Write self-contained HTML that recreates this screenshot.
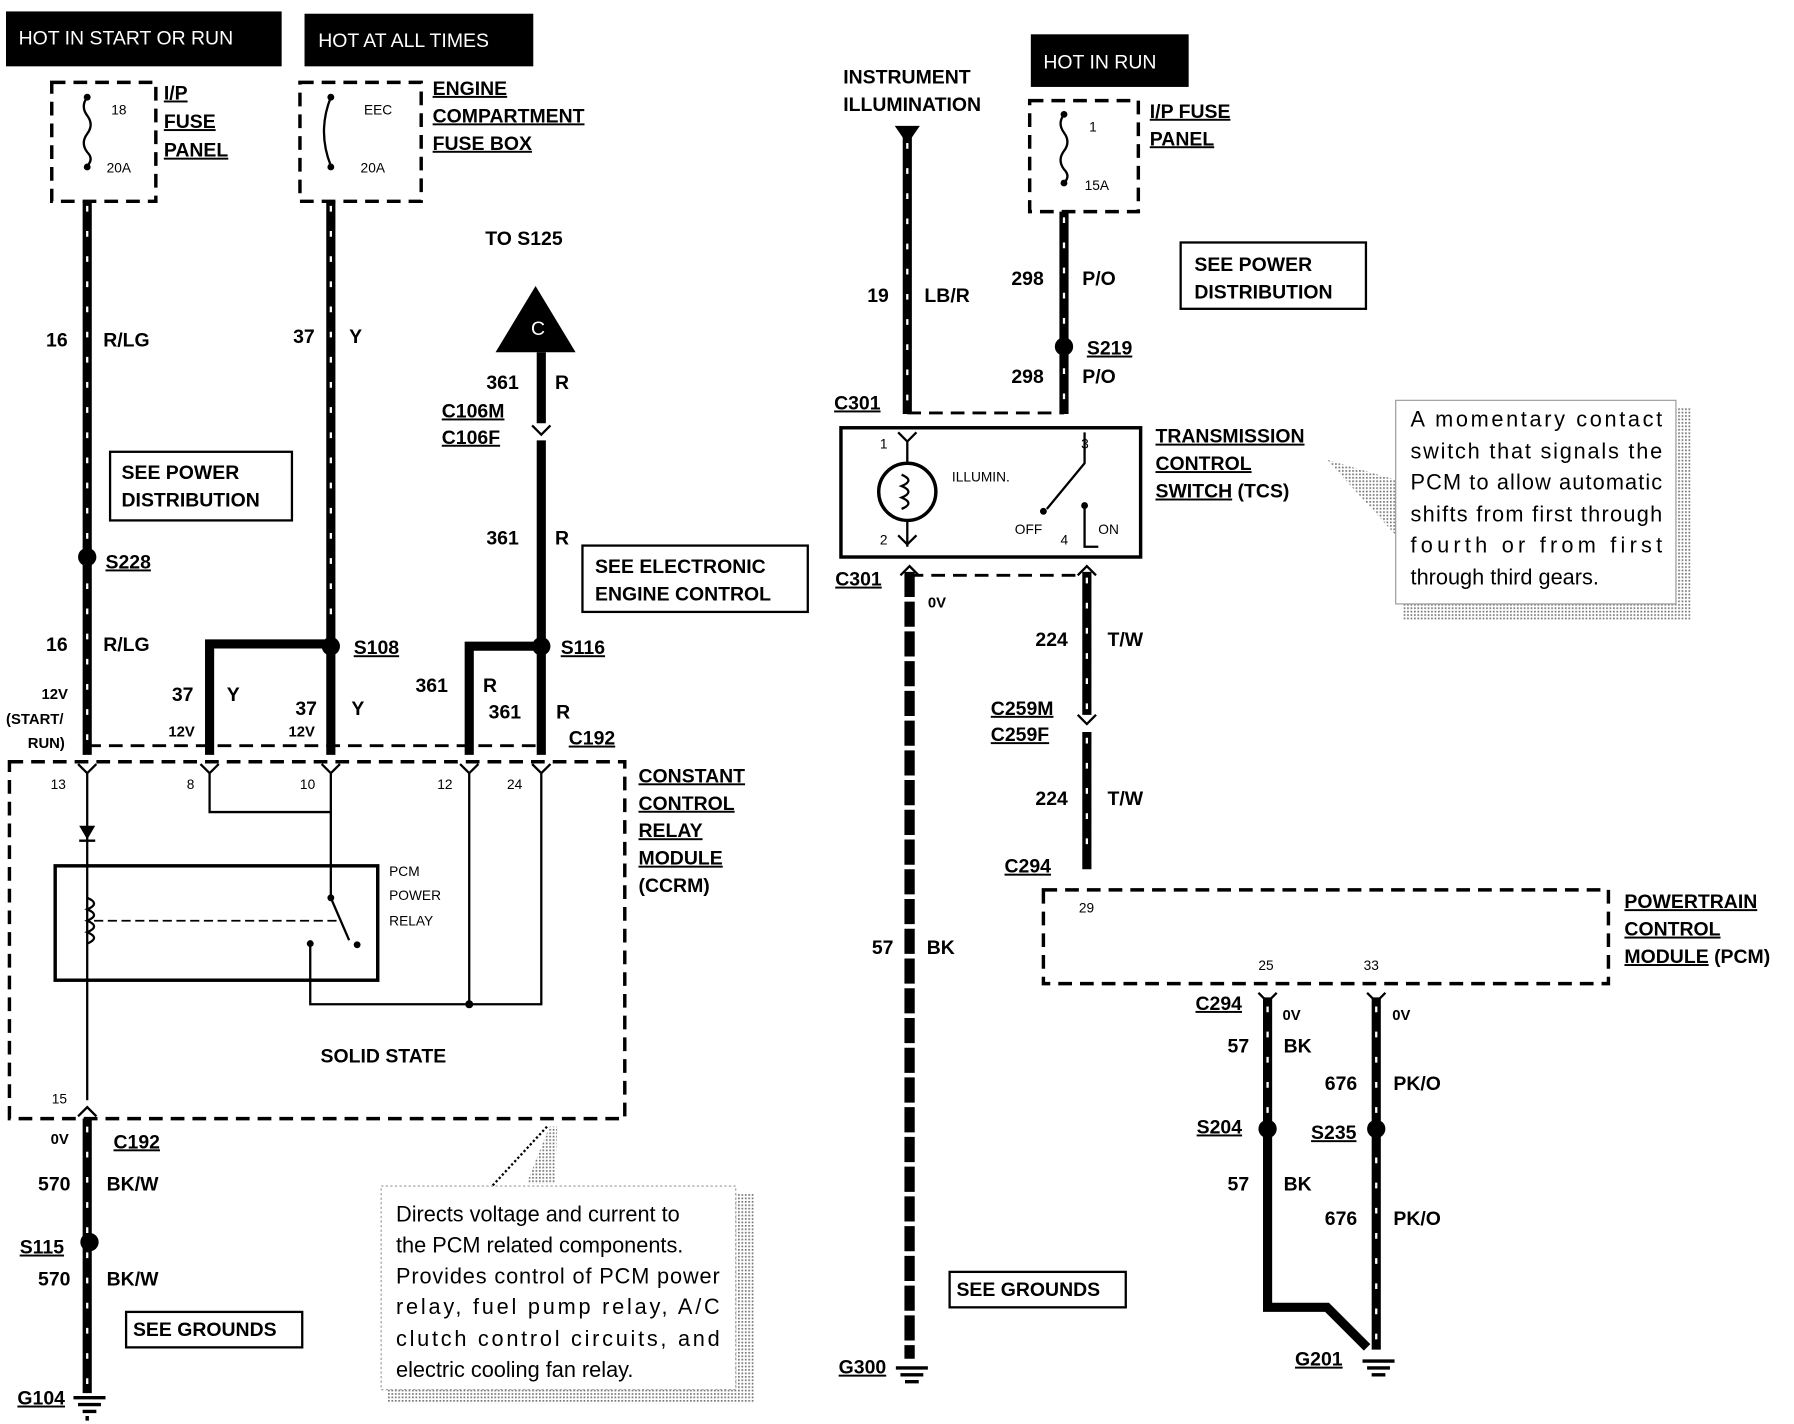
<!DOCTYPE html>
<html><head><meta charset="utf-8"><style>
html,body{margin:0;padding:0;background:#fff;}
svg{display:block}
text{font-family:"Liberation Sans",sans-serif;font-weight:bold;font-size:17px;fill:#000}
.s{font-size:12px;font-weight:normal}
.n{font-weight:normal;font-size:19px}
.u{text-decoration:underline}
.w{stroke:#000;stroke-width:8;fill:none}
.t{stroke:#fff;stroke-width:2;fill:none;stroke-dasharray:5 17}
.d{stroke:#000;stroke-width:3;fill:none;stroke-dasharray:12 7}
.l{stroke:#000;stroke-width:2;fill:none}
.b{stroke:#000;stroke-width:2;fill:#fff}
</style></head><body>
<svg width="1794" height="1424" viewBox="0 0 1568 1245" xmlns="http://www.w3.org/2000/svg">
<defs><pattern id="h" width="3" height="3" patternUnits="userSpaceOnUse"><rect width="3" height="3" fill="#fff"/><rect width="1.5" height="1.5" fill="#777"/></pattern></defs>

<!-- LEFT headers -->
<rect x="5" y="10" width="241" height="48" fill="#000"/><text x="16" y="39" style="fill:#fff;font-weight:normal">HOT IN START OR RUN</text>
<rect x="266" y="12" width="200" height="46" fill="#000"/><text x="278" y="41" style="fill:#fff;font-weight:normal">HOT AT ALL TIMES</text>

<rect x="45" y="72" width="91" height="104" class="d"/>
<path d="M76 85 q-6 8 0 16 q6 8 0 16 q-6 8 0 16 q6 6 0 12" class="l"/><circle cx="76" cy="85" r="3"/><circle cx="76" cy="146" r="3"/>
<text x="97" y="100" class="s">18</text><text x="93" y="151" class="s">20A</text>
<text x="143" y="87" class="u">I/P</text><text x="143" y="112" class="u">FUSE</text><text x="143" y="137" class="u">PANEL</text>

<rect x="262" y="72" width="106" height="104" class="d"/>
<path d="M289 85 q-12 30 0 60" class="l"/><circle cx="289" cy="85" r="3"/><circle cx="289" cy="146" r="3"/>
<text x="318" y="100" class="s">EEC</text><text x="315" y="151" class="s">20A</text>
<text x="378" y="83" class="u">ENGINE</text><text x="378" y="107" class="u">COMPARTMENT</text><text x="378" y="131" class="u">FUSE BOX</text>

<!-- wire 1 -->
<path d="M76 176V660" class="w"/><path d="M76 180V655" class="t"/>
<text x="40" y="303">16</text><text x="90" y="303">R/LG</text>
<rect x="96" y="395" width="159" height="60" class="b"/><text x="106" y="419">SEE POWER</text><text x="106" y="443">DISTRIBUTION</text>
<circle cx="76" cy="487" r="8"/><text x="92" y="497" class="u">S228</text>
<text x="40" y="569">16</text><text x="90" y="569">R/LG</text>
<text x="36" y="611" style="font-size:13px">12V</text><text x="5" y="633" style="font-size:13px">(START/</text><text x="24" y="654" style="font-size:13px">RUN)</text>

<!-- wire 2 -->
<path d="M289 176V660 M289 563H183V660" class="w"/><path d="M289 180V545" class="t"/>
<text x="256" y="300">37</text><text x="305" y="300">Y</text>
<circle cx="289" cy="565" r="8"/><text x="309" y="572" class="u">S108</text>
<text x="150" y="613">37</text><text x="198" y="613">Y</text><text x="147" y="644" style="font-size:13px">12V</text>
<text x="258" y="625">37</text><text x="307" y="625">Y</text><text x="252" y="644" style="font-size:13px">12V</text>

<!-- wire 3 -->
<text x="424" y="214">TO S125</text>
<polygon points="468,250 503,308 433,308" fill="#000"/><text x="464" y="293" style="fill:#fff;font-weight:normal">C</text>
<path d="M473 308V370 M473 385V660 M473 565H410V660" class="w"/>
<path d="M465 372l8 8 8-8" class="l"/>
<text x="425" y="340">361</text><text x="485" y="340">R</text>
<text x="386" y="365" class="u">C106M</text><text x="386" y="388" class="u">C106F</text>
<text x="425" y="476">361</text><text x="485" y="476">R</text>
<rect x="509" y="477" width="197" height="58" class="b"/><text x="520" y="501">SEE ELECTRONIC</text><text x="520" y="525">ENGINE CONTROL</text>
<circle cx="473" cy="565" r="8"/><text x="490" y="572" class="u">S116</text>
<text x="363" y="605">361</text><text x="422" y="605">R</text>
<text x="427" y="628">361</text><text x="486" y="628">R</text>
<text x="497" y="651" class="u">C192</text>
<path d="M76 652H473" class="d" style="stroke-width:2.5"/>

<!-- CCRM -->
<rect x="8" y="666" width="538" height="312" class="d"/>
<g class="l"><path d="M68 668l8 8 8-8M175 668l8 8 8-8M281 668l8 8 8-8M402 668l8 8 8-8M465 668l8 8 8-8"/></g>
<text x="44" y="690" class="s">13</text><text x="163" y="690" class="s">8</text><text x="262" y="690" class="s">10</text><text x="382" y="690" class="s">12</text><text x="443" y="690" class="s">24</text>
<path d="M183 676V710H289 M289 676V785 L305 822 M76 676V962 M410 676V878 M473 676V878H271V825" class="l"/>
<circle cx="410" cy="878" r="3.5"/><circle cx="289" cy="785" r="3"/><circle cx="271" cy="825" r="3"/><circle cx="312" cy="826" r="3"/>
<polygon points="69,722 83,722 76,734" fill="#000"/><path d="M69 735H83" class="l"/>
<rect x="48" y="757" width="282" height="100" style="fill:none;stroke:#000;stroke-width:3"/>
<path d="M76 785 q12 5 0 10 q12 5 0 10 q12 5 0 10 q12 5 0 10" class="l"/>
<path d="M82 805H295" style="stroke:#000;stroke-width:1.5;stroke-dasharray:8 4"/>
<text x="340" y="766" class="s">PCM</text><text x="340" y="787" class="s">POWER</text><text x="340" y="809" class="s">RELAY</text>
<text x="280" y="929">SOLID STATE</text>
<text x="45" y="965" class="s">15</text><path d="M68 976l8-8 8 8" class="l"/>
<text x="558" y="684" class="u">CONSTANT</text><text x="558" y="708" class="u">CONTROL</text><text x="558" y="732" class="u">RELAY</text><text x="558" y="756" class="u">MODULE</text><text x="558" y="780">(CCRM)</text>

<!-- bottom left -->
<text x="44" y="1000" style="font-size:13px">0V</text><text x="99" y="1004" class="u">C192</text>
<path d="M76 978V1218" class="w"/><path d="M76 985V1210" class="t"/>
<text x="33" y="1041">570</text><text x="93" y="1041">BK/W</text>
<circle cx="78" cy="1086" r="8"/><text x="17" y="1096" class="u">S115</text>
<text x="33" y="1124">570</text><text x="93" y="1124">BK/W</text>
<rect x="110" y="1147" width="154" height="31" class="b"/><text x="116" y="1168">SEE GROUNDS</text>
<text x="15" y="1228" class="u">G104</text>
<path d="M64 1222H92M68 1228H88M72 1234H84M76 1238V1242" style="stroke:#000;stroke-width:3"/>
<polygon points="460,1035 480,985 487,985 485,1035" fill="url(#h)"/>
<path d="M478 985L430 1037" class="l" style="stroke-dasharray:2 2"/>
<rect x="339" y="1043" width="320" height="184" fill="url(#h)"/>
<rect x="333" y="1037" width="310" height="178" fill="#fff" style="stroke:#999;stroke-width:1;stroke-dasharray:2 2"/>
<text x="346" y="1068" class="n">Directs voltage and current to</text>
<text x="346" y="1095" class="n">the PCM related components.</text>
<text x="346" y="1122" class="n" textLength="283">Provides control of PCM power</text>
<text x="346" y="1149" class="n" textLength="283">relay, fuel pump relay, A/C</text>
<text x="346" y="1177" class="n" textLength="283">clutch control circuits, and</text>
<text x="346" y="1204" class="n">electric cooling fan relay.</text>

<!-- RIGHT -->
<text x="737" y="73">INSTRUMENT</text><text x="737" y="97">ILLUMINATION</text>
<polygon points="782,110 804,110 793,126" fill="#000"/>
<path d="M793 118V362" class="w"/><path d="M793 125V355" class="t"/>
<text x="758" y="264">19</text><text x="808" y="264">LB/R</text>
<text x="729" y="358" class="u">C301</text>
<rect x="901" y="30" width="138" height="46" fill="#000"/><text x="912" y="60" style="fill:#fff;font-weight:normal">HOT IN RUN</text>
<rect x="900" y="88" width="95" height="97" class="d"/>
<path d="M930 100 q-6 8 0 16 q6 8 0 16 q-6 8 0 16 q6 6 0 12" class="l"/><circle cx="930" cy="100" r="3"/><circle cx="930" cy="160" r="3"/>
<text x="952" y="115" class="s">1</text><text x="948" y="166" class="s">15A</text>
<text x="1005" y="103" class="u">I/P FUSE</text><text x="1005" y="127" class="u">PANEL</text>
<path d="M930 185V362" class="w"/><path d="M930 190V355" class="t"/>
<text x="884" y="249">298</text><text x="946" y="249">P/O</text>
<circle cx="930" cy="303" r="8"/><text x="950" y="310" class="u">S219</text>
<text x="884" y="335">298</text><text x="946" y="335">P/O</text>
<rect x="1032" y="212" width="162" height="58" class="b"/><text x="1044" y="237">SEE POWER</text><text x="1044" y="261">DISTRIBUTION</text>
<path d="M793 361H930" class="d" style="stroke-width:2.5"/>

<rect x="735" y="374" width="262" height="113" style="fill:none;stroke:#000;stroke-width:3"/>
<text x="769" y="392" class="s">1</text><text x="945" y="392" class="s">3</text><text x="769" y="476" class="s">2</text><text x="927" y="476" class="s">4</text>
<path d="M785 378l8 8 8-8M785 468l8 8 8-8" class="l"/>
<path d="M793 386V405 M793 455V478 M948 378V405 L915 445 M948 442V478H960" class="l"/>
<circle cx="793" cy="430" r="25" style="fill:none;stroke:#000;stroke-width:3"/>
<path d="M788 415 q12 5 0 10 q12 5 0 10 q12 5 0 10" class="l"/>
<text x="832" y="421" class="s">ILLUMIN.</text>
<circle cx="912" cy="447" r="3"/><circle cx="948" cy="442" r="3"/>
<text x="887" y="467" class="s">OFF</text><text x="960" y="467" class="s">ON</text>
<text x="1010" y="387" class="u">TRANSMISSION</text><text x="1010" y="411" class="u">CONTROL</text><text x="1010" y="435"><tspan class="u">SWITCH</tspan> (TCS)</text>
<polygon points="1160,402 1222,420 1222,470" fill="url(#h)"/>
<rect x="1226" y="356" width="252" height="186" fill="url(#h)"/>
<rect x="1220" y="350" width="245" height="178" fill="#fff" style="stroke:#999;stroke-width:1"/>
<text x="1233" y="373" class="n" textLength="220">A momentary contact</text>
<text x="1233" y="401" class="n" textLength="220">switch that signals the</text>
<text x="1233" y="428" class="n" textLength="220">PCM to allow automatic</text>
<text x="1233" y="456" class="n" textLength="220">shifts from first through</text>
<text x="1233" y="483" class="n" textLength="220">fourth or from first</text>
<text x="1233" y="511" class="n">through third gears.</text>

<text x="730" y="512" class="u">C301</text>
<path d="M787 503l8-8 8 8M942 503l8-8 8 8" class="l"/>
<path d="M795 500V1188" style="stroke:#000;stroke-width:9;stroke-dasharray:22 4"/>
<text x="811" y="531" style="font-size:13px">0V</text>
<path d="M795 503H950" class="d" style="stroke-width:2.5"/>
<text x="762" y="834">57</text><text x="810" y="834">BK</text>
<rect x="830" y="1112" width="154" height="31" class="b"/><text x="836" y="1133">SEE GROUNDS</text>
<text x="733" y="1201" class="u">G300</text>
<path d="M783 1196H811M787 1202H807M791 1208H803" style="stroke:#000;stroke-width:3"/>

<path d="M950 500V625 M950 640V760" class="w"/><path d="M950 505V620 M950 645V755" class="t"/>
<path d="M942 625l8 8 8-8" class="l"/>
<text x="905" y="565">224</text><text x="968" y="565">T/W</text>
<text x="866" y="625" class="u">C259M</text><text x="866" y="648" class="u">C259F</text>
<text x="905" y="704">224</text><text x="968" y="704">T/W</text>
<text x="878" y="763" class="u">C294</text>
<rect x="912" y="778" width="494" height="82" class="d"/>
<text x="943" y="798" class="s">29</text><text x="1100" y="848" class="s">25</text><text x="1192" y="848" class="s">33</text>
<text x="1420" y="794" class="u">POWERTRAIN</text><text x="1420" y="818" class="u">CONTROL</text><text x="1420" y="842"><tspan class="u">MODULE</tspan> (PCM)</text>

<text x="1045" y="883" class="u">C294</text>
<path d="M1100 868l8 8 8-8M1195 868l8 8 8-8" class="l"/>
<path d="M1108 872V1143H1160L1195 1178 M1203 872V1180" class="w"/>
<path d="M1108 880V975 M1203 880V1175" class="t"/>
<text x="1121" y="892" style="font-size:13px">0V</text><text x="1217" y="892" style="font-size:13px">0V</text>
<text x="1073" y="920">57</text><text x="1122" y="920">BK</text>
<text x="1158" y="953">676</text><text x="1218" y="953">PK/O</text>
<circle cx="1108" cy="987" r="8"/><text x="1046" y="991" class="u">S204</text>
<circle cx="1203" cy="987" r="8"/><text x="1146" y="996" class="u">S235</text>
<text x="1073" y="1041">57</text><text x="1122" y="1041">BK</text>
<text x="1158" y="1071">676</text><text x="1218" y="1071">PK/O</text>
<text x="1132" y="1194" class="u">G201</text>
<path d="M1191 1190H1219M1195 1196H1215M1199 1202H1211" style="stroke:#000;stroke-width:3"/>
</svg>
</body></html>
